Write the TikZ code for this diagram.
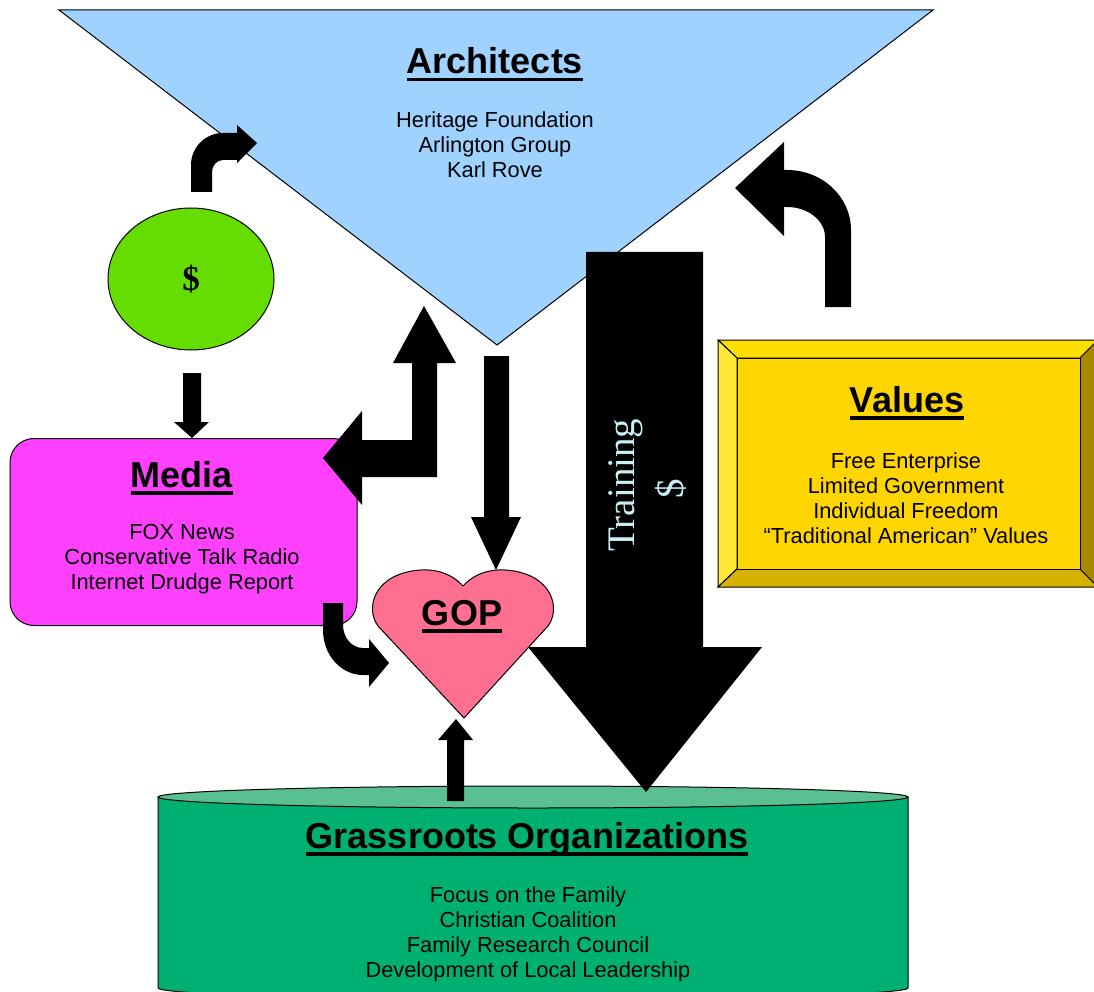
\documentclass[tikz,border=0pt]{standalone}
\usepackage{fontspec}
\setmainfont{Liberation Sans}
\newfontfamily\serifft{Liberation Serif}
\usetikzlibrary{shapes.geometric}
\definecolor{archblue}{RGB}{160,210,255}
\definecolor{moneygreen}{RGB}{102,221,0}
\definecolor{mediamag}{RGB}{255,64,255}
\definecolor{heartpink}{RGB}{255,112,144}
\definecolor{valtop}{RGB}{255,222,0}
\definecolor{valface}{RGB}{255,213,0}
\definecolor{valleft}{RGB}{255,230,55}
\definecolor{valbot}{RGB}{214,178,0}
\definecolor{valright}{RGB}{168,138,0}
\definecolor{cylbody}{RGB}{0,176,115}
\definecolor{cyltop}{RGB}{90,192,145}
\definecolor{traintext}{RGB}{200,240,245}
\newcommand{\ttl}[1]{{\fontsize{36}{40}\selectfont\bfseries\setbox0=\hbox{#1}\leavevmode\rlap{\rule[-7.5pt]{\wd0}{3.5pt}}\box0}}
\begin{document}
\begin{tikzpicture}[x=1pt,y=-1pt,
  body/.style={align=center,font=\fontsize{21.8}{25}\selectfont,inner sep=0pt},
  ttlnode/.style={anchor=base,inner sep=0pt},
  blk/.style={fill=black},
  outl/.style={draw=black,line width=1pt}]
\useasboundingbox (0,0) rectangle (1094,992);
\clip (0,0) rectangle (1094,992);

% Architects triangle
\draw[outl,fill=archblue] (59,10) -- (933,10) -- (497,345) -- cycle;

% Grassroots cylinder
\draw[outl,fill=cylbody] (158,797) -- (158,988) arc[start angle=180,end angle=0,x radius=375,y radius=11] -- (908,797) -- cycle;
\draw[outl,fill=cyltop] (533,797) ellipse[x radius=375,y radius=11];

% Training arrow
\fill[blk] (586,252) -- (703,252) -- (703,647) -- (762,647) -- (646,792) -- (528,647) -- (586,647) -- cycle;
\node[rotate=90,inner sep=0pt,text=traintext,font=\serifft\fontsize{39}{42}\selectfont] (trainlbl) at (626,485) {Training};
\node[rotate=90,inner sep=0pt,text=traintext,font=\serifft\fontsize{39}{42}\selectfont] (trainmoney) at (671,489) {\$};

% Money ellipse
\node[ellipse,outl,fill=moneygreen,minimum width=166,minimum height=142,inner sep=0pt] (money) at (191,279) {};

% Media box
\node[outl,fill=mediamag,rounded corners=24pt,minimum width=347,minimum height=187,inner sep=0pt] (media) at (183.5,532) {};

% Values bevel box
\draw[outl,fill=valtop] (718,340) -- (1098,340) -- (1080,358) -- (737,358) -- cycle;
\draw[outl,fill=valleft] (718,340) -- (737,358) -- (737,569) -- (718,587) -- cycle;
\draw[outl,fill=valbot] (718,587) -- (737,569) -- (1080,569) -- (1098,587) -- cycle;
\draw[outl,fill=valright] (1098,340) -- (1080,358) -- (1080,569) -- (1098,587) -- cycle;
\draw[outl,fill=valface] (737,358) rectangle (1080,569);

% bent arrow money -> architects
\fill[blk] (191,192) -- (191,165) arc[start angle=180,end angle=270,radius=32] -- (237,133) -- (237,125) -- (257,143) -- (237,163) -- (237,160) -- (223,160) arc[start angle=270,end angle=180,x radius=11,y radius=12] -- (212,192) -- cycle;

% bent arrow values -> architects
\fill[blk] (825,307) -- (825,237) arc[start angle=0,end angle=-90,x radius=38,y radius=30] -- (784,207) -- (784,236) -- (735,188) -- (784,142) -- (784,170) -- (787,170) arc[start angle=-90,end angle=0,x radius=64,y radius=60] -- (851,307) -- cycle;

% money -> media
\fill[blk] (183,373) -- (201,373) -- (201,422) -- (209,422) -- (192,438) -- (174,422) -- (183,422) -- cycle;

% media <-> architects
\fill[blk] (412,440) -- (412,363) -- (393,363) -- (424,306) -- (456,363) -- (437,363) -- (437,477) -- (362,477) -- (362,505) -- (323,458) -- (362,411) -- (362,440) -- cycle;

% architects -> GOP
\fill[blk] (484,356) -- (509,356) -- (509,517) -- (521,517) -- (496,570) -- (471,517) -- (484,517) -- cycle;

% media -> GOP
\fill[blk] (323,603) -- (323,630) arc[start angle=180,end angle=90,x radius=40,y radius=45] -- (369,675) -- (369,687) -- (389,663) -- (369,639) -- (369,648) -- (363,648) arc[start angle=90,end angle=180,x radius=20,y radius=23] -- (343,603) -- cycle;

% GOP heart
\draw[outl,fill=heartpink] (464,718) -- (378,626) .. controls (366,610) and (372,578) .. (412,571) .. controls (435,567) and (452,574) .. (463,586) .. controls (474,574) and (491,567) .. (514,571) .. controls (554,578) and (560,610) .. (548,626) -- cycle;

% grassroots -> GOP
\fill[blk] (447,801) -- (447,740) -- (438,740) -- (456,719) -- (473,740) -- (464,740) -- (464,801) -- cycle;

% Texts
\node[ttlnode] (archttl) at (495,74) {\ttl{Architects}};
\node[body] (archbody) at (495,145) {Heritage Foundation\\Arlington Group\\Karl Rove};
\node[inner sep=0pt,font=\serifft\bfseries\fontsize{35}{38}\selectfont] (moneylbl) at (191,279) {\$};
\node[ttlnode] (mediattl) at (182,487) {\ttl{Media}};
\node[body] (mediabody) at (182,559) {FOX News\\Conservative Talk Radio\\Internet Drudge Report};
\node[ttlnode] (gopttl) at (462,625) {\ttl{GOP}};
\node[ttlnode] (valttl) at (907,412) {\ttl{Values}};
\node[body] (valbody) at (906,498) {Free Enterprise\\Limited Government\\Individual Freedom\\``Traditional American'' Values};
\node[ttlnode] (grassttl) at (527,848) {\ttl{Grassroots Organizations}};
\node[body] (grassbody) at (528,934) {Focus on the Family\\Christian Coalition\\Family Research Council\\Development of Local Leadership};
\end{tikzpicture}
\end{document}
